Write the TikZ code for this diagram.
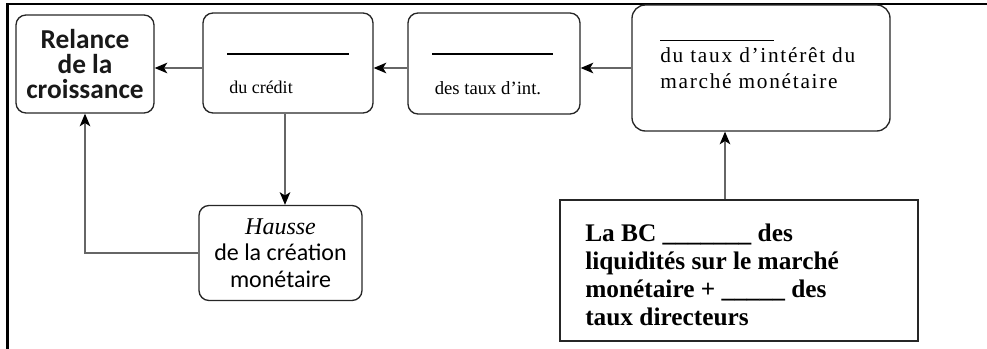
\documentclass[tikz,border=0pt]{standalone}
\usepackage{fontspec}
\setmainfont{Liberation Serif}
\newfontfamily\condsans{Carlito}
\newfontfamily\spacedserif[LetterSpace=8]{Liberation Serif}
\usetikzlibrary{arrows.meta}
\begin{document}
\begin{tikzpicture}[x=0.75pt,y=-0.75pt,
  box/.style={draw=black!85, line width=1pt, rounded corners=7.5pt, inner sep=0pt},
  bigbox/.style={box, rounded corners=10pt},
  plainbox/.style={draw=black!85, line width=0.85pt, inner sep=0pt},
  conn/.style={draw=black!60, line width=0.9pt, -{Stealth[length=9.5pt,width=8pt,inset=2.5pt,color=black]}},
  blank/.style={line width=1.6pt, black},
  thinblank/.style={line width=0.7pt, black}
]
\useasboundingbox (0,0) rectangle (987,349);
% outer frame (top and left edges only)
\draw[line width=2.2pt] (987,4) -- (7.5,4) -- (7.5,349);

% boxes
\node[box, minimum width=103.5pt, minimum height=73.5pt, align=center,
      font=\condsans\bfseries\fontsize{20.5}{19}\selectfont, text=black!90]
  (relance) at (85,64) {Relance\\de la\\croissance};
\node[box, minimum width=127.5pt, minimum height=75pt] (credit) at (288,63) {};
\node[box, minimum width=129pt, minimum height=75.75pt] (taux) at (494,63.5) {};
\node[bigbox, minimum width=193.5pt, minimum height=94.5pt] (marche) at (761,68) {};
\node[plainbox, minimum width=268.5pt, minimum height=105.75pt] (bc) at (739,270.5) {};
\node[box, minimum width=122.25pt, minimum height=71.25pt, align=center,
      font=\fontsize{18}{20}\selectfont]
  (hausse) at (280.5,253)
  {\textit{Hausse}\\{\condsans de la création}\\{\condsans monétaire}};

% contents of box 2
\coordinate (c2a) at (227,54);
\coordinate (c2b) at (349,54);
\draw[blank] (c2a) -- (c2b);
\node[anchor=base west, inner sep=0pt, font=\fontsize{13.5}{15}\selectfont] (t2) at (229,94) {du crédit};

% contents of box 3
\coordinate (c3a) at (432,54);
\coordinate (c3b) at (553,54);
\draw[blank] (c3a) -- (c3b);
\node[anchor=base, inner sep=0pt, font=\fontsize{14}{16}\selectfont] (t3) at (488,95) {des taux d’int.};

% contents of box 4
\coordinate (c4a) at (660,40);
\coordinate (c4b) at (774,40);
\draw[thinblank] (c4a) -- (c4b);
\node[anchor=base west, inner sep=0pt, align=left, font=\spacedserif\fontsize{16}{19.5}\selectfont] (t4) at (660,88.3)
  {du taux d’intérêt du\\marché monétaire};

% contents of box 5
\node[anchor=base west, inner sep=0pt, align=left, font=\bfseries\fontsize{19}{20.8}\selectfont] (t5) at (585,325)
  {La BC \_\_\_\_\_\_\_ des\\liquidités sur le marché\\monétaire + \_\_\_\_\_ des\\taux directeurs};

% connectors
\coordinate (row) at (0,68);
\coordinate (colbc) at (725,0);
\coordinate (colcr) at (285,0);
\draw[conn] (credit.west |- row) -- (relance.east |- row);
\draw[conn] (taux.west |- row) -- (credit.east |- row);
\draw[conn] (marche.west |- row) -- (taux.east |- row);
\draw[conn] (bc.north -| colbc) -- (marche.south -| colbc);
\draw[conn] (credit.south -| colcr) -- (hausse.north -| colcr);
\draw[conn] (hausse.west) -| (relance.south);
\end{tikzpicture}
\end{document}
